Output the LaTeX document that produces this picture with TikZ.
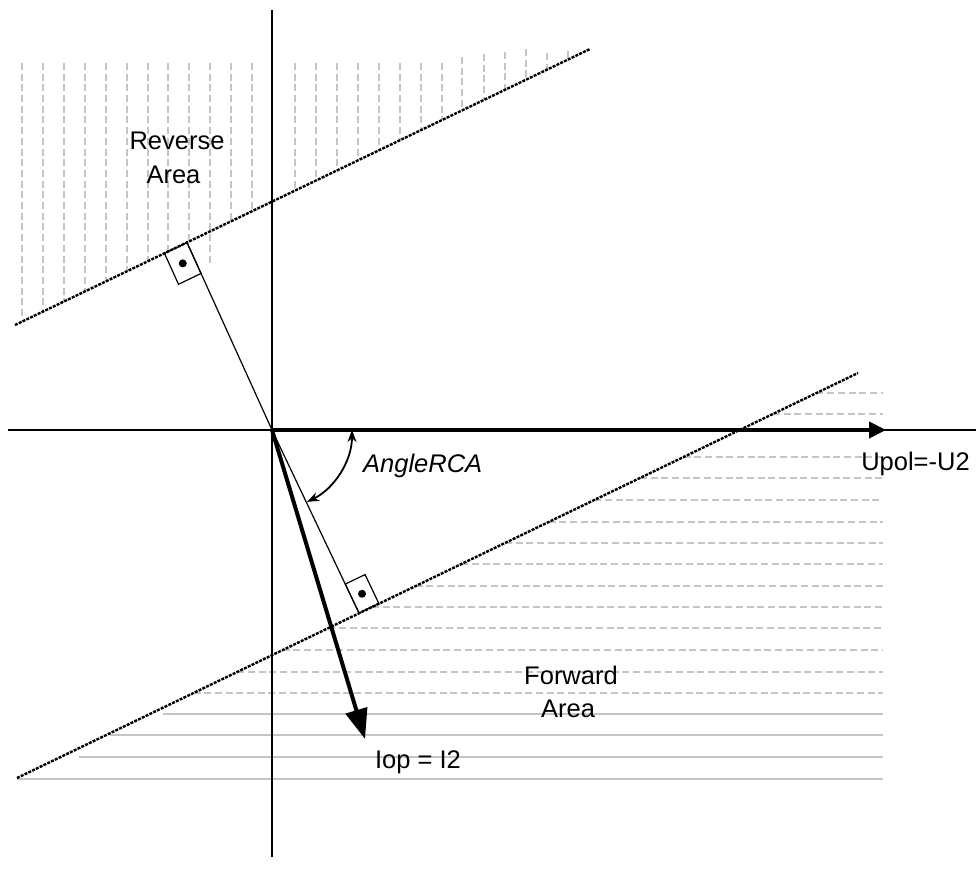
\documentclass[tikz,border=0pt]{standalone}
\usepackage{fontspec}
\setmainfont{Liberation Sans}
\usetikzlibrary{arrows.meta,calc}
\definecolor{hatchgray}{RGB}{196,196,196}
\begin{document}
\begin{tikzpicture}[x=1pt,y=-1pt,
  thinline/.style={line width=1.3pt},
  boundline/.style={line width=2.4pt, dash pattern=on 3pt off 1.2pt},
  hatchdash/.style={line width=1.8pt, draw=hatchgray, dash pattern=on 7pt off 3.7pt},
  hatchsolid/.style={line width=1.8pt, draw=hatchgray},
  vecline/.style={line width=4pt},
  lbl/.style={inner sep=0pt, font=\fontsize{25.5}{30}\selectfont},
  markbox/.style={line width=1.2pt},
  markdot/.style={fill=black, draw=none}
]
\useasboundingbox (0,0) rectangle (976,885);

% key points
\coordinate (O) at (272,430);
\coordinate (UL) at (15,325);
\coordinate (UR) at (590,49);
\coordinate (LL) at (17,778);
\coordinate (LR) at (858,373);
\coordinate (F1) at (187,242.5);
\coordinate (F2) at (359,613);
\coordinate (AxL) at (8,430);
\coordinate (AxR) at (976,430);
\coordinate (AxT) at (272,10);
\coordinate (AxB) at (272,857);
\coordinate (UpolTip) at (886,430);
\coordinate (IopTip) at (365,739);

% reverse area hatch (vertical dashed)
\foreach \x/\t/\b in {22/63/321.6,43/63/311.6,64/63/301.5,85/63/291.4,106/63/281.3,127/63/271.2,148/63/261.2,168/63/251.6,189/63/241.5,210/63/265,231/63/221.3,252/63/211.2,295/63/190.6,316/63/180.5,337/63/170.4,358/63/160.4,379/63/150.3,400/63/140.2,421/63/130.1,442/63/120.0,462/57/110.4,484/54/99.9,505/52/89.8,526/49/79.7,547/53/69.6,568/51/59.6}
  \draw[hatchdash] (\x,\t) -- (\x,\b);

% forward area hatch (horizontal)
\foreach \y in {393,414,457,478,500,522,543,564,586,607,628,650,672,693}{
  \pgfmathsetmacro\sx{17+(778-\y)*2.0765}
  \draw[hatchdash] (\sx,\y) -- (883,\y);
}
\foreach \y/\sx in {714/163,735/110,757/79,779/17}
  \draw[hatchsolid] (\sx,\y) -- (883,\y);

% axes
\draw[thinline] (AxL) -- (AxR);
\draw[thinline] (AxT) -- (AxB);

% boundary lines
\draw[boundline] (UL) -- (UR);
\draw[boundline] (LL) -- (LR);

% perpendicular line
\draw[line width=1.2pt] (F1) -- (O) -- (F2);

% right-angle markers
\coordinate (B1) at ($(F1)!25pt!(UL)$);
\coordinate (A1) at ($(F1)!34pt!(O)$);
\coordinate (C1) at ($(A1)+(B1)-(F1)$);
\draw[markbox] (F1) -- (B1) -- (C1) -- (A1) -- cycle;
\fill[markdot] ($(B1)!0.5!(A1)$) circle[radius=4];

\coordinate (B2) at ($(F2)!22pt!(LR)$);
\coordinate (A2) at ($(F2)!32pt!(O)$);
\coordinate (C2) at ($(A2)+(B2)-(F2)$);
\draw[markbox] (F2) -- (B2) -- (C2) -- (A2) -- cycle;
\fill[markdot] ($(B2)!0.5!(A2)$) circle[radius=4];

% vectors
\draw[vecline, -{Triangle[length=17pt,width=16pt]}] (O) -- (UpolTip);
\draw[vecline, -{Triangle[length=30pt,width=22pt]}] (O) -- (IopTip);

% angle arc
\draw[line width=1.8pt, {Stealth[length=12pt,width=9pt]}-{Stealth[length=12pt,width=9pt]}]
  ($(O)+(0:80)$) arc[start angle=0,end angle=64,radius=80];

% labels
\node[lbl, anchor=base] (rev1) at (177,150) {Reverse};
\node[lbl, anchor=base] (rev2) at (173.5,184) {Area};
\node[lbl, anchor=base] (fwd1) at (571,684) {Forward};
\node[lbl, anchor=base] (fwd2) at (568,717) {Area};
\node[lbl, anchor=base west, font=\fontsize{25.5}{30}\selectfont\itshape] (ang) at (363,472) {AngleRCA};
\node[lbl, anchor=base] (upol) at (915.5,470) {Upol=-U2};
\node[lbl, anchor=base] (iop) at (418,768) {Iop = I2};
\end{tikzpicture}
\end{document}
